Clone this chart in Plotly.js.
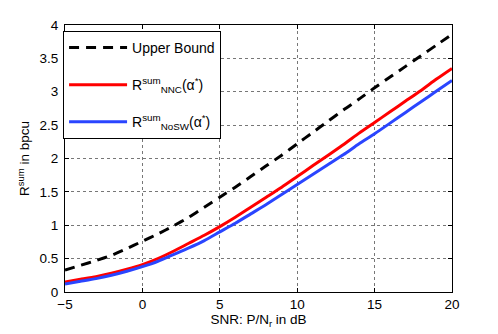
<!DOCTYPE html>
<html>
<head>
<meta charset="utf-8">
<script src="https://cdn.plot.ly/plotly-3.0.1.min.js"></script>
<style>body{margin:0;background:#fff;}</style>
</head>
<body>
<div id="chart" style="width:498px;height:334px;"></div>
<script>
var snr = [-5, -4, -3, -2, -1, 0, 1, 2, 3, 4, 5, 6, 7, 8, 9, 10, 11, 12, 13, 14, 15, 16, 17, 18, 19, 20];

var upperBound = [0.33, 0.40, 0.47, 0.55, 0.65, 0.76, 0.87, 0.99, 1.12, 1.27, 1.42, 1.57, 1.73, 1.89, 2.05, 2.22,
    2.39, 2.56, 2.73, 2.89, 3.06, 3.22, 3.38, 3.54, 3.70, 3.86];
var rateNNC = [0.15, 0.19, 0.23, 0.28, 0.34, 0.41, 0.50, 0.61, 0.73, 0.85, 0.98, 1.12, 1.27, 1.42, 1.57, 1.73,
    1.89, 2.05, 2.21, 2.38, 2.54, 2.70, 2.86, 3.02, 3.19, 3.35];
var rateNoSW = [0.12, 0.16, 0.20, 0.25, 0.31, 0.38, 0.46, 0.56, 0.66, 0.77, 0.90, 1.03, 1.17, 1.31, 1.46, 1.61,
    1.76, 1.91, 2.06, 2.22, 2.37, 2.53, 2.69, 2.85, 3.01, 3.17];

var names = ['Upper Bound',
    'R<sup>sum</sup><sub>NNC</sub>(α<sup>*</sup>)',
    'R<sup>sum</sup><sub>NoSW</sub>(α<sup>*</sup>)'];

var xticks = [-5, 0, 5, 10, 15, 20];
var xticklabels = ['\u22125', '0', '5', '10', '15', '20'];
var yticks = [0, 0.5, 1, 1.5, 2, 2.5, 3, 3.5, 4];

var data = [{
    x: snr, y: upperBound, name: names[0], mode: 'lines', legendgroup: 'a',
    line: { color: '#000000', width: 3, dash: '10px,7px', shape: 'spline', smoothing: 0.6 }
}, {
    x: snr, y: rateNNC, name: names[1], mode: 'lines', legendgroup: 'b',
    line: { color: '#ff0000', width: 3, shape: 'spline', smoothing: 0.6 }
}, {
    x: snr, y: rateNoSW, name: names[2], mode: 'lines', legendgroup: 'c',
    line: { color: '#2a45ff', width: 3, shape: 'spline', smoothing: 0.6 }
}];

var axisStyle = {
    showline: true, linecolor: '#000', linewidth: 1, mirror: 'ticks',
    ticks: 'inside', ticklen: 4, tickcolor: '#000',
    showgrid: true, gridcolor: '#777', griddash: 'dot', gridwidth: 1,
    zeroline: false, tickfont: { size: 13.5, color: '#000' }
};

var layout = {
    width: 498, height: 334,
    margin: { l: 65, r: 46, t: 25, b: 42 },
    font: { family: 'Liberation Sans, Arial, sans-serif', size: 13.5, color: '#000' },
    paper_bgcolor: '#fff', plot_bgcolor: '#fff',
    xaxis: Object.assign({}, axisStyle, {
        range: [-5, 20], tickvals: xticks, ticktext: xticklabels,
        title: { text: 'SNR: P/N<sub>r</sub> in dB', standoff: 2, font: { size: 13.5 } }
    }),
    yaxis: Object.assign({}, axisStyle, {
        range: [0, 4], tickvals: yticks, ticklabelstandoff: 3,
        title: { text: 'R<sup>sum</sup> in bpcu', standoff: 6, font: { size: 13.5 } }
    }),
    showlegend: true,
    legend: {
        x: -0.005, y: 0.978, xanchor: 'left', yanchor: 'top',
        bgcolor: '#fff', bordercolor: '#000', borderwidth: 1,
        font: { size: 14 }, traceorder: 'grouped', tracegroupgap: 16, itemwidth: 58
    }
};

Plotly.newPlot('chart', data, layout, { displayModeBar: false, staticPlot: true });
</script>
</body>
</html>
